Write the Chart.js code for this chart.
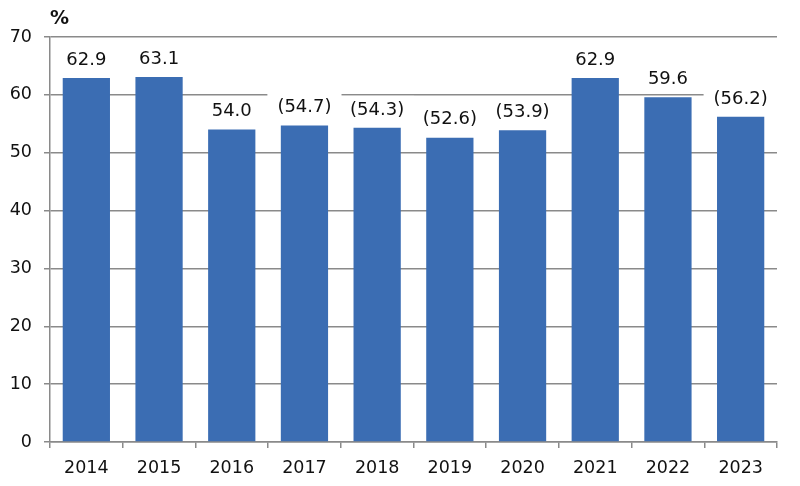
<!DOCTYPE html>
<html>
<head>
<meta charset="utf-8">
<script src="https://cdn.jsdelivr.net/npm/chart.js@4/dist/chart.umd.min.js"></script>
<style>
html,body{margin:0;padding:0;background:#fff;}
#wrap{width:800px;height:486px;position:relative;}
</style>
</head>
<body>
<div id="wrap"><canvas id="c" width="800" height="486"></canvas></div>
<script>
const categories = ["2014","2015","2016","2017","2018","2019","2020","2021","2022","2023"];
const values = [62.9, 63.1, 54.0, 54.7, 54.3, 52.6, 53.9, 62.9, 59.6, 56.2];
const bracketed = [false, false, false, true, true, true, true, false, false, true];
const yTicks = [0, 10, 20, 30, 40, 50, 60, 70];
const unitLabel = "%";

const FONT = "'DejaVu Sans', Verdana, sans-serif";
const GRID = "#8a8a8a";

const labelPlugin = {
  id: 'valueLabels',
  afterDatasetsDraw(chart) {
    const ctx = chart.ctx;
    const meta = chart.getDatasetMeta(0);
    ctx.save();
    ctx.font = "18px " + FONT;
    ctx.textAlign = 'center';
    ctx.textBaseline = 'middle';
    meta.data.forEach((bar, i) => {
      const txt = bracketed[i] ? "(" + values[i].toFixed(1) + ")" : values[i].toFixed(1);
      const w = ctx.measureText(txt).width;
      const top = bar.y;
      ctx.fillStyle = '#ffffff';
      ctx.fillRect(bar.x - w / 2 - 10, top - 32, w + 20, 28);
      ctx.fillStyle = '#111111';
      ctx.fillText(txt, bar.x, top - 18);
    });
    // unit label
    ctx.font = "bold 19px " + FONT;
    ctx.textAlign = 'left';
    ctx.fillStyle = '#111111';
    ctx.fillText(unitLabel, 50, 19);
    ctx.restore();
  }
};

new Chart(document.getElementById('c'), {
  type: 'bar',
  data: {
    labels: categories,
    datasets: [{
      data: values,
      backgroundColor: '#3B6DB3',
      borderWidth: 0,
      categoryPercentage: 0.65,
      barPercentage: 1.0
    }]
  },
  options: {
    responsive: false,
    animation: false,
    devicePixelRatio: 1,
    layout: { padding: { top: 37, right: 23, left: 0, bottom: 0 } },
    plugins: { legend: { display: false }, tooltip: { enabled: false } },
    scales: {
      x: {
        grid: { display: true, drawOnChartArea: false, drawTicks: true, tickLength: 6, color: GRID, lineWidth: 1.5, offset: true },
        border: { display: true, color: GRID, width: 1.5 },
        ticks: { color: '#111', font: { family: FONT, size: 17.5 }, padding: 10, maxRotation: 0 },
        afterFit(s) { s.height = 44; }
      },
      y: {
        min: 0, max: 70,
        afterBuildTicks(s) { s.ticks = yTicks.map(v => ({ value: v })); },
        grid: { color: GRID, lineWidth: 1.5, drawTicks: true, tickLength: 6 },
        border: { display: true, color: GRID, width: 1.5 },
        ticks: { color: '#111', font: { family: FONT, size: 17.5 }, padding: 12 },
        afterFit(s) { s.width = 50; }
      }
    }
  },
  plugins: [labelPlugin]
});
</script>
</body>
</html>
